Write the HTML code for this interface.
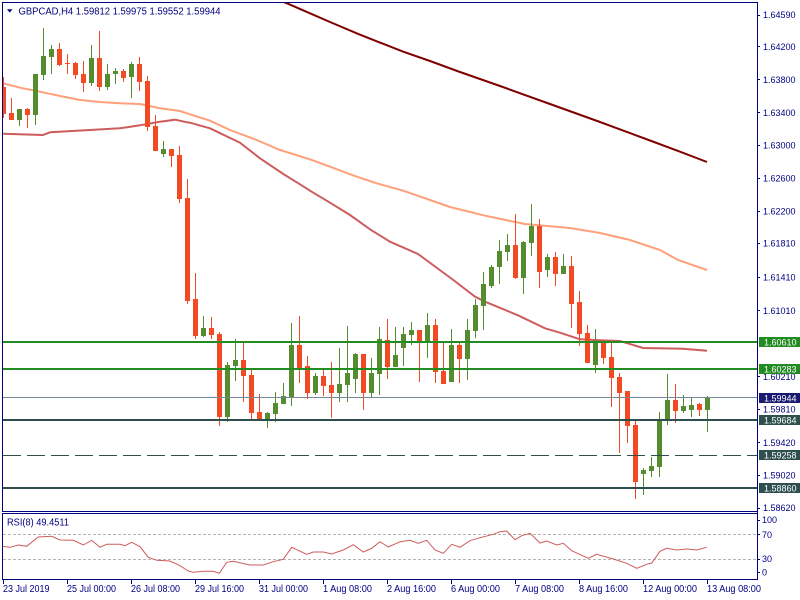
<!DOCTYPE html>
<html><head><meta charset="utf-8"><style>
html,body{margin:0;padding:0;background:#fff;width:800px;height:600px;overflow:hidden}
svg{display:block}
text{font-family:"Liberation Sans",Arial,sans-serif;fill:#000080}
</style></head><body>
<svg width="800" height="600" viewBox="0 0 800 600" xmlns="http://www.w3.org/2000/svg">
<defs><clipPath id="pc"><rect x="3" y="3" width="754" height="508"/></clipPath>
<clipPath id="rc"><rect x="3" y="514" width="754" height="65"/></clipPath></defs>
<rect x="0" y="0" width="800" height="600" fill="#fff"/>

<g clip-path="url(#pc)">
<!-- moving averages -->
<polyline fill="none" stroke="#800000" stroke-width="2" points="270,-3 287,3.3 310,13.3 330,22 356.7,33.3 376.7,41.3 403.3,51.7 430,61 460,72 500,86 550,104 600,122 650,140.5 680,151.7 707,162"/>
<polyline fill="none" stroke="#FFA07A" stroke-width="2" points="3,83.3 20,87.7 40,91.7 60,96 80,100 100,102 120,103.3 140,104 160,108.3 180,111 190,114.3 210,120.7 230,130 256.7,140 280,150 310,159.3 330,166.7 356.7,176.7 376.7,183.3 403.3,190.7 430,200 450,207 485,215.7 525,224 570,228 600,233 630,240 660,250 678,260 707,270"/>
<polyline fill="none" stroke="#CD5C5C" stroke-width="2" points="3,133.7 43,135 50,132.3 90,130 120,128.3 140,125.3 160,121.7 175,119.7 187,122.3 190,122.7 210,128.3 240,142.7 260,158.3 283.3,174 300,184.3 310,190.7 330,202.7 350,215 370,229.3 390,241.7 418,254 452,279 475,296.7 485,301.7 518,315.3 545,328.3 560,332.7 580,339.3 600,340.3 620,341 643,348 683,348.7 707,350.7"/>

<g fill="#F24A23" shape-rendering="crispEdges">
<rect x="3" y="77" width="1" height="41"/><rect x="1" y="87" width="5" height="27"/>
<rect x="11" y="98" width="1" height="22"/><rect x="9" y="113" width="5" height="7"/>
<rect x="27" y="108" width="1" height="20"/><rect x="25" y="109" width="5" height="6"/>
<rect x="59" y="43" width="1" height="23"/><rect x="57" y="49" width="5" height="16"/>
<rect x="67" y="54" width="1" height="20"/><rect x="65" y="63" width="5" height="1"/>
<rect x="75" y="62" width="1" height="17"/><rect x="73" y="63" width="5" height="12"/>
<rect x="83" y="61" width="1" height="31"/><rect x="81" y="74" width="5" height="9"/>
<rect x="99" y="31" width="1" height="60"/><rect x="97" y="58" width="5" height="29"/>
<rect x="123" y="69" width="1" height="13"/><rect x="121" y="71" width="5" height="7"/>
<rect x="139" y="57" width="1" height="34"/><rect x="137" y="64" width="5" height="18"/>
<rect x="147" y="76" width="1" height="55"/><rect x="145" y="81" width="5" height="46"/>
<rect x="155" y="115" width="1" height="36"/><rect x="153" y="126" width="5" height="25"/>
<rect x="171" y="149" width="1" height="18"/><rect x="169" y="149" width="5" height="7"/>
<rect x="179" y="146" width="1" height="57"/><rect x="177" y="155" width="5" height="44"/>
<rect x="187" y="179" width="1" height="125"/><rect x="185" y="198" width="5" height="103"/>
<rect x="195" y="273" width="1" height="66"/><rect x="193" y="299" width="5" height="37"/>
<rect x="211" y="317" width="1" height="22"/><rect x="209" y="328" width="5" height="7"/>
<rect x="219" y="332" width="1" height="94"/><rect x="217" y="334" width="5" height="83"/>
<rect x="243" y="343" width="1" height="59"/><rect x="241" y="360" width="5" height="16"/>
<rect x="251" y="370" width="1" height="51"/><rect x="249" y="375" width="5" height="38"/>
<rect x="259" y="394" width="1" height="27"/><rect x="257" y="412" width="5" height="9"/>
<rect x="299" y="316" width="1" height="67"/><rect x="297" y="345" width="5" height="24"/>
<rect x="307" y="356" width="1" height="43"/><rect x="305" y="366" width="5" height="27"/>
<rect x="323" y="368" width="1" height="28"/><rect x="321" y="376" width="5" height="10"/>
<rect x="331" y="362" width="1" height="56"/><rect x="329" y="385" width="5" height="8"/>
<rect x="363" y="354" width="1" height="56"/><rect x="361" y="354" width="5" height="39"/>
<rect x="387" y="319" width="1" height="60"/><rect x="385" y="340" width="5" height="27"/>
<rect x="419" y="330" width="1" height="52"/><rect x="417" y="330" width="5" height="11"/>
<rect x="435" y="319" width="1" height="64"/><rect x="433" y="325" width="5" height="47"/>
<rect x="443" y="342" width="1" height="42"/><rect x="441" y="371" width="5" height="13"/>
<rect x="459" y="342" width="1" height="41"/><rect x="457" y="345" width="5" height="14"/>
<rect x="515" y="214" width="1" height="65"/><rect x="513" y="245" width="5" height="33"/>
<rect x="539" y="219" width="1" height="69"/><rect x="537" y="226" width="5" height="46"/>
<rect x="555" y="252" width="1" height="34"/><rect x="553" y="257" width="5" height="17"/>
<rect x="571" y="256" width="1" height="72"/><rect x="569" y="266" width="5" height="38"/>
<rect x="579" y="291" width="1" height="55"/><rect x="577" y="302" width="5" height="32"/>
<rect x="587" y="325" width="1" height="38"/><rect x="585" y="333" width="5" height="30"/>
<rect x="603" y="343" width="1" height="21"/><rect x="601" y="343" width="5" height="15"/>
<rect x="611" y="343" width="1" height="64"/><rect x="609" y="357" width="5" height="21"/>
<rect x="619" y="373" width="1" height="80"/><rect x="617" y="377" width="5" height="16"/>
<rect x="627" y="391" width="1" height="52"/><rect x="625" y="391" width="5" height="35"/>
<rect x="635" y="419" width="1" height="80"/><rect x="633" y="425" width="5" height="57"/>
<rect x="675" y="384" width="1" height="39"/><rect x="673" y="400" width="5" height="11"/>
<rect x="699" y="403" width="1" height="13"/><rect x="697" y="404" width="5" height="6"/>
</g>

<g fill="#548C2F" shape-rendering="crispEdges">
<rect x="19" y="109" width="1" height="17"/><rect x="17" y="109" width="5" height="11"/>
<rect x="35" y="74" width="1" height="51"/><rect x="33" y="74" width="5" height="41"/>
<rect x="43" y="28" width="1" height="52"/><rect x="41" y="56" width="5" height="19"/>
<rect x="51" y="45" width="1" height="29"/><rect x="49" y="49" width="5" height="8"/>
<rect x="91" y="45" width="1" height="41"/><rect x="89" y="58" width="5" height="25"/>
<rect x="107" y="64" width="1" height="26"/><rect x="105" y="74" width="5" height="13"/>
<rect x="115" y="68" width="1" height="16"/><rect x="113" y="71" width="5" height="3"/>
<rect x="131" y="62" width="1" height="36"/><rect x="129" y="64" width="5" height="13"/>
<rect x="163" y="141" width="1" height="16"/><rect x="161" y="149" width="5" height="5"/>
<rect x="203" y="316" width="1" height="21"/><rect x="201" y="328" width="5" height="8"/>
<rect x="227" y="362" width="1" height="60"/><rect x="225" y="365" width="5" height="52"/>
<rect x="235" y="339" width="1" height="42"/><rect x="233" y="360" width="5" height="6"/>
<rect x="267" y="412" width="1" height="16"/><rect x="265" y="413" width="5" height="7"/>
<rect x="275" y="392" width="1" height="30"/><rect x="273" y="403" width="5" height="11"/>
<rect x="283" y="383" width="1" height="21"/><rect x="281" y="396" width="5" height="8"/>
<rect x="291" y="323" width="1" height="83"/><rect x="289" y="345" width="5" height="52"/>
<rect x="315" y="373" width="1" height="22"/><rect x="313" y="376" width="5" height="17"/>
<rect x="339" y="348" width="1" height="54"/><rect x="337" y="384" width="5" height="9"/>
<rect x="347" y="326" width="1" height="76"/><rect x="345" y="373" width="5" height="12"/>
<rect x="355" y="353" width="1" height="40"/><rect x="353" y="354" width="5" height="25"/>
<rect x="371" y="358" width="1" height="40"/><rect x="369" y="373" width="5" height="20"/>
<rect x="379" y="327" width="1" height="68"/><rect x="377" y="339" width="5" height="35"/>
<rect x="395" y="327" width="1" height="40"/><rect x="393" y="355" width="5" height="12"/>
<rect x="403" y="327" width="1" height="39"/><rect x="401" y="334" width="5" height="14"/>
<rect x="411" y="322" width="1" height="23"/><rect x="409" y="330" width="5" height="5"/>
<rect x="427" y="313" width="1" height="45"/><rect x="425" y="325" width="5" height="16"/>
<rect x="451" y="329" width="1" height="53"/><rect x="449" y="345" width="5" height="37"/>
<rect x="467" y="319" width="1" height="61"/><rect x="465" y="330" width="5" height="29"/>
<rect x="475" y="299" width="1" height="39"/><rect x="473" y="305" width="5" height="26"/>
<rect x="483" y="272" width="1" height="58"/><rect x="481" y="284" width="5" height="22"/>
<rect x="491" y="265" width="1" height="23"/><rect x="489" y="267" width="5" height="19"/>
<rect x="499" y="240" width="1" height="44"/><rect x="497" y="251" width="5" height="16"/>
<rect x="507" y="234" width="1" height="27"/><rect x="505" y="245" width="5" height="7"/>
<rect x="523" y="241" width="1" height="53"/><rect x="521" y="242" width="5" height="36"/>
<rect x="531" y="204" width="1" height="52"/><rect x="529" y="226" width="5" height="17"/>
<rect x="547" y="254" width="1" height="23"/><rect x="545" y="257" width="5" height="13"/>
<rect x="563" y="254" width="1" height="20"/><rect x="561" y="266" width="5" height="8"/>
<rect x="595" y="329" width="1" height="44"/><rect x="593" y="343" width="5" height="22"/>
<rect x="643" y="468" width="1" height="27"/><rect x="641" y="470" width="5" height="4"/>
<rect x="651" y="457" width="1" height="20"/><rect x="649" y="466" width="5" height="5"/>
<rect x="659" y="412" width="1" height="65"/><rect x="657" y="420" width="5" height="47"/>
<rect x="667" y="374" width="1" height="51"/><rect x="665" y="400" width="5" height="21"/>
<rect x="683" y="395" width="1" height="18"/><rect x="681" y="406" width="5" height="5"/>
<rect x="691" y="398" width="1" height="19"/><rect x="689" y="405" width="5" height="5"/>
<rect x="707" y="396" width="1" height="36"/><rect x="705" y="398" width="5" height="12"/>
</g>

<!-- horizontal levels -->
<g shape-rendering="crispEdges">
<rect x="3" y="341" width="754" height="2" fill="#228B22"/>
<rect x="3" y="368" width="754" height="2" fill="#228B22"/>
<rect x="3" y="397" width="754" height="1" fill="#778899"/>
<rect x="3" y="419" width="754" height="2" fill="#2F4F4F"/>
<line x1="3" y1="455.5" x2="757" y2="455.5" stroke="#2F4F4F" stroke-width="1" stroke-dasharray="18,6"/>
<rect x="3" y="487" width="754" height="2" fill="#2F4F4F"/>
</g>
</g>

<!-- header -->
<polygon points="7,9.3 12.5,9.3 9.75,12.6" fill="#000080"/>
<text x="18.5" y="14.3" font-size="10" textLength="202" lengthAdjust="spacingAndGlyphs">GBPCAD,H4  1.59812 1.59975 1.59552 1.59944</text>

<!-- frames -->
<g shape-rendering="crispEdges" fill="#000080">
<rect x="2" y="2" width="756" height="1"/>
<rect x="2" y="2" width="1" height="510"/>
<rect x="2" y="511" width="756" height="1"/>
<rect x="757" y="2" width="1" height="578"/>
<rect x="2" y="513" width="756" height="1"/>
<rect x="2" y="513" width="1" height="67"/>
<rect x="2" y="579" width="756" height="1"/>
</g>

<!-- price axis ticks and labels -->
<g shape-rendering="crispEdges" fill="#000080">
<rect x="757" y="15" width="3" height="1"/>
<rect x="757" y="46" width="3" height="1"/>
<rect x="757" y="79" width="3" height="1"/>
<rect x="757" y="112" width="3" height="1"/>
<rect x="757" y="145" width="3" height="1"/>
<rect x="757" y="178" width="3" height="1"/>
<rect x="757" y="211" width="3" height="1"/>
<rect x="757" y="243" width="3" height="1"/>
<rect x="757" y="277" width="3" height="1"/>
<rect x="757" y="310" width="3" height="1"/>
<rect x="757" y="376" width="3" height="1"/>
<rect x="757" y="409" width="3" height="1"/>
<rect x="757" y="442" width="3" height="1"/>
<rect x="757" y="475" width="3" height="1"/>
<rect x="757" y="508" width="3" height="1"/>
</g>
<g font-size="9">
<text x="763" y="18.2">1.64590</text>
<text x="763" y="49.9">1.64200</text>
<text x="763" y="82.9">1.63800</text>
<text x="763" y="115.9">1.63400</text>
<text x="763" y="148.5">1.63000</text>
<text x="763" y="181.5">1.62600</text>
<text x="763" y="214.5">1.62200</text>
<text x="763" y="246.5">1.61810</text>
<text x="763" y="280.5">1.61410</text>
<text x="763" y="313.9">1.61010</text>
<text x="763" y="379.9">1.60210</text>
<text x="763" y="412.5">1.59810</text>
<text x="763" y="445.9">1.59420</text>
<text x="763" y="478.5">1.59020</text>
<text x="763" y="511.2">1.58620</text>
</g>

<!-- level boxes -->
<g shape-rendering="crispEdges">
<rect x="759" y="337" width="41" height="10" fill="#228B22"/>
<rect x="759" y="364" width="41" height="10" fill="#228B22"/>
<rect x="759" y="393" width="41" height="10" fill="#191970"/>
<rect x="759" y="415" width="41" height="10" fill="#2F4F4F"/>
<rect x="759" y="450" width="41" height="10" fill="#2F4F4F"/>
<rect x="759" y="483" width="41" height="10" fill="#2F4F4F"/>
</g>
<g font-size="9" style="fill:#fff">
<text x="764" y="345.5" style="fill:#fff">1.60610</text>
<text x="764" y="372.5" style="fill:#fff">1.60283</text>
<text x="764" y="401.5" style="fill:#fff">1.59944</text>
<text x="764" y="423.5" style="fill:#fff">1.59684</text>
<text x="764" y="458.5" style="fill:#fff">1.59258</text>
<text x="764" y="491.5" style="fill:#fff">1.58860</text>
</g>

<!-- RSI panel -->
<g clip-path="url(#rc)">
<line x1="3" y1="534.5" x2="757" y2="534.5" stroke="#B4B4B4" stroke-width="1" stroke-dasharray="3,2"/>
<line x1="3" y1="559.5" x2="757" y2="559.5" stroke="#B4B4B4" stroke-width="1" stroke-dasharray="3,2"/>
<polyline fill="none" stroke="#CD5C5C" stroke-width="1" points="2.7,546.3 10,547.3 18.3,545 26.7,546.3 38.3,537 51.7,536.3 60,540 73.3,540.3 83.3,545 91.7,540.3 100,547.3 106.7,544.3 120,544.3 125,545.7 131.7,542.3 140,546.7 148.3,557.3 156.7,560.3 170,561 180,565.7 188.3,571 193.3,572.3 203.3,571.3 213.3,571.3 219.3,573.3 226.7,562.3 233.3,561.3 250,565 263.3,565 273.3,561.7 283.3,559.3 291.7,547.3 306.7,554.3 313.3,552 323.3,552 331.7,554 343.3,550 353.3,544.7 363.3,552 371.7,548.3 380,541.7 388.3,547 400,541.7 410,540.3 418.3,543.3 426.7,540.3 435,550 443.3,553.3 451.7,544.3 460,547.3 470,540.7 480,537.7 493.3,534.3 500,531.7 506.7,531 515,539.7 521.7,535.7 530,533.3 540,543 546.7,541 556.7,545 563.3,543.3 571.7,550.7 588.3,558.3 596.7,554.3 613.3,559 626.7,563.3 636.7,568.3 646.7,564.3 651.7,563 660,551.3 666.7,548.3 676.7,550 686.7,549 696.7,550 706.7,547.3"/>
</g>
<text x="7" y="525.3" font-size="10" textLength="62" lengthAdjust="spacingAndGlyphs">RSI(8) 49.4511</text>
<g shape-rendering="crispEdges" fill="#000080">
<rect x="757" y="520" width="3" height="1"/>
<rect x="757" y="534" width="3" height="1"/>
<rect x="757" y="559" width="3" height="1"/>
<rect x="757" y="572" width="3" height="1"/>
</g>
<g font-size="9">
<text x="762" y="523.2">100</text>
<text x="762" y="537.9">70</text>
<text x="762" y="562.2">30</text>
<text x="762" y="575.5">0</text>
</g>

<!-- time axis -->
<g shape-rendering="crispEdges" fill="#000080">
<rect x="3" y="580" width="1" height="4"/>
<rect x="67" y="580" width="1" height="4"/>
<rect x="131" y="580" width="1" height="4"/>
<rect x="195" y="580" width="1" height="4"/>
<rect x="259" y="580" width="1" height="4"/>
<rect x="323" y="580" width="1" height="4"/>
<rect x="387" y="580" width="1" height="4"/>
<rect x="451" y="580" width="1" height="4"/>
<rect x="515" y="580" width="1" height="4"/>
<rect x="579" y="580" width="1" height="4"/>
<rect x="643" y="580" width="1" height="4"/>
<rect x="707" y="580" width="1" height="4"/>
</g>
<g font-size="10">
<text x="3" y="592" textLength="46.5" lengthAdjust="spacingAndGlyphs">23 Jul 2019</text>
<text x="67" y="592" textLength="49" lengthAdjust="spacingAndGlyphs">25 Jul 00:00</text>
<text x="131" y="592" textLength="49" lengthAdjust="spacingAndGlyphs">26 Jul 08:00</text>
<text x="195" y="592" textLength="49" lengthAdjust="spacingAndGlyphs">29 Jul 16:00</text>
<text x="259" y="592" textLength="49" lengthAdjust="spacingAndGlyphs">31 Jul 00:00</text>
<text x="323" y="592" textLength="49" lengthAdjust="spacingAndGlyphs">1 Aug 08:00</text>
<text x="387" y="592" textLength="49" lengthAdjust="spacingAndGlyphs">2 Aug 16:00</text>
<text x="451" y="592" textLength="49" lengthAdjust="spacingAndGlyphs">6 Aug 00:00</text>
<text x="515" y="592" textLength="49" lengthAdjust="spacingAndGlyphs">7 Aug 08:00</text>
<text x="579" y="592" textLength="49" lengthAdjust="spacingAndGlyphs">8 Aug 16:00</text>
<text x="643" y="592" textLength="54" lengthAdjust="spacingAndGlyphs">12 Aug 00:00</text>
<text x="707" y="592" textLength="54" lengthAdjust="spacingAndGlyphs">13 Aug 08:00</text>
</g>
</svg>
</body></html>
